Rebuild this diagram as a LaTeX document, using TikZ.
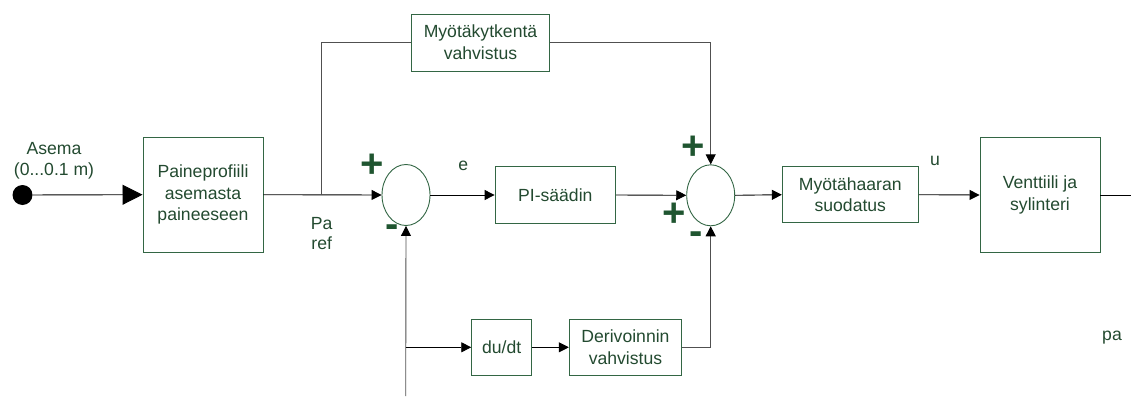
\documentclass[tikz,border=0pt]{standalone}
\usepackage{fontspec}
\setmainfont{Liberation Sans}
\usetikzlibrary{arrows.meta,shapes.geometric}
\definecolor{boxline}{HTML}{336644}
\definecolor{txt}{HTML}{234A30}
\definecolor{sign}{HTML}{1F5530}
\definecolor{wire}{HTML}{505050}
\tikzset{
  blk/.style={draw=boxline, line width=0.9pt, text=txt, align=center, inner sep=0pt,
              font=\fontsize{17.6}{21.7}\selectfont},
  sumj/.style={draw=boxline, line width=0.9pt, ellipse, minimum width=48pt,
               minimum height=61pt, inner sep=0pt},
  lbl/.style={text=txt, font=\fontsize{17.6}{20}\selectfont, inner sep=0pt},
  sgn/.style={text=sign, font=\fontsize{40}{40}\bfseries\selectfont, inner sep=0pt},
  tip/.style={-{Triangle[length=10pt,width=10pt,color=black]}},
  sig/.style={line width=0.9pt, tip},
  plain/.style={line width=0.9pt},
  grey/.style={line width=0.9pt, draw=wire},
}
\begin{document}
\begin{tikzpicture}[x=1pt,y=-1pt]
\useasboundingbox (0,0) rectangle (1131,398);

% input point
\node[circle, fill=black, minimum size=20pt, inner sep=0pt] (in) at (22.5,195) {};
\node[lbl] (asema) at (54,149) {Asema};
\node[lbl] (range) at (54,171) {(0...0.1 m)};

% blocks
\node[blk, minimum width=120pt, minimum height=115pt] (prof) at (203,194.7) {Paineprofiili\\asemasta\\paineeseen};
\node[blk, minimum width=137.5pt, minimum height=57pt] (ff) at (480.5,42.5) {Myötäkytkentä\\vahvistus};
\node[blk, minimum width=120.5pt, minimum height=56.5pt] (pi) at (555.3,195) {PI-säädin};
\node[blk, minimum width=136pt, minimum height=56pt] (filt) at (850.3,194.7) {Myötähaaran\\suodatus};
\node[blk, minimum width=120pt, minimum height=114.5pt] (valve) at (1040,195) {Venttiili ja\\sylinteri};
\node[blk, minimum width=60pt, minimum height=56.7pt] (ddt) at (501.7,347.3) {du/dt};
\node[blk, minimum width=112.4pt, minimum height=56.7pt] (dgain) at (625.5,347.3) {Derivoinnin\\vahvistus};

% summing junctions
\node[sumj] (s1) at (406,195) {};
\node[sumj] (s2) at (710.7,195.3) {};

% branch points and wire ends
\coordinate (pt) at (321.7,195);
\coordinate (ffl) at (321.7,42.5);
\coordinate (ffr) at (710.7,42.5);
\coordinate (fb) at (405.7,347.3);
\coordinate (fbend) at (405.7,396);
\coordinate (dcorner) at (710.7,347.3);
\coordinate (out) at (1131,195);

% signal path
\draw[plain, -{Triangle[length=20pt,width=20pt]}] (in) -- (prof.west);
\draw[sig] (prof.east) -- (s1.west);
\draw[sig] (s1.east) -- (pi.west);
\draw[sig] (pi.east) -- (s2.west);
\draw[sig] (s2.east) -- (filt.west);
\draw[sig] (filt.east) -- (valve.west);
\draw[plain] (valve.east) -- (out);

% feedforward
\draw[grey] (pt) -- (ffl) -- (ff.west);
\draw[grey, tip] (ff.east) -- (ffr) -- (s2.north);

% feedback and derivative branch
\draw[grey, tip] (fbend) -- (s1.south);
\draw[sig] (fb) -- (ddt.west);
\draw[sig] (ddt.east) -- (dgain.west);
\draw[grey, tip] (dgain.east) -- (dcorner) -- (s2.south);

% signs
\node[sgn] (p1) at (371.7,166) {+};
\node[sgn] (m1) at (391.7,231) {-};
\node[sgn] (p2) at (693.3,147.5) {+};
\node[sgn] (p3) at (674.3,214.5) {+};
\node[sgn] (m2) at (695.7,238) {-};

% signal names
\node[lbl] (e) at (463.3,166) {e};
\node[lbl] (u) at (935,161) {u};
\node[lbl] (pa) at (321.7,223.3) {Pa};
\node[lbl] (ref) at (321.7,243.3) {ref};
\node[lbl] (pout) at (1112,338) {pa};
\end{tikzpicture}
\end{document}
